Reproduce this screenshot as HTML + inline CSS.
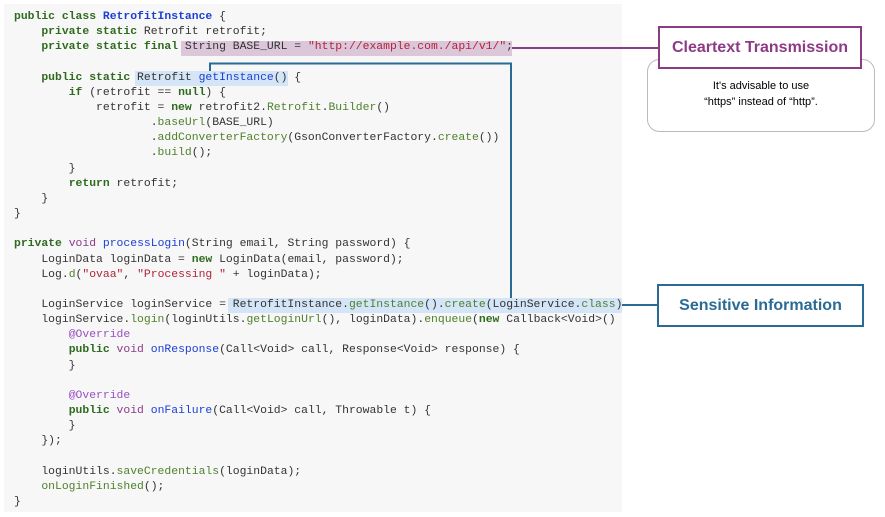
<!DOCTYPE html>
<html><head><meta charset="utf-8"><style>
body{margin:0;width:885px;height:517px;background:#fff;position:relative;overflow:hidden;font-family:"Liberation Sans",sans-serif}
#code{position:absolute;left:4px;top:4px;width:618px;height:508px;background:#f7f7f7}
pre{position:absolute;left:14px;top:10px;margin:0;font-family:"Liberation Mono",monospace;font-size:11.4px;line-height:15.15px;color:#333;white-space:pre}
.k{color:#2e6b1e;font-weight:bold}.c{color:#1b3fd4;font-weight:bold}.s{color:#b0243a}.m{color:#50802c}.a{color:#9a4ec4}.v{color:#8b3a8b}.f{color:#1b3fd4}
.hl{position:absolute}
.box{position:absolute;box-sizing:border-box;display:flex;align-items:center;justify-content:center;font-weight:bold;font-size:16px;background:#fff}
</style></head><body>
<div id="code"></div>
<div class="hl" style="left:181px;top:41px;width:331px;height:15px;background:#dcc6d9"></div>
<div class="hl" style="left:135px;top:71px;width:153px;height:15px;background:#d3e5f6"></div>
<div class="hl" style="left:228px;top:298px;width:394px;height:15px;background:#d3e5f6"></div>
<pre><span class="k">public class</span> <span class="c">RetrofitInstance</span> {
    <span class="k">private static</span> Retrofit retrofit;
    <span class="k">private static final</span> String BASE_URL = <span class="s">"http://example.com./api/v1/"</span>;

    <span class="k">public static</span> Retrofit <span class="f">getInstance</span>() {
        <span class="k">if</span> (retrofit == <span class="k">null</span>) {
            retrofit = <span class="k">new</span> retrofit2.<span class="m">Retrofit</span>.<span class="m">Builder</span>()
                    .<span class="m">baseUrl</span>(BASE_URL)
                    .<span class="m">addConverterFactory</span>(GsonConverterFactory.<span class="m">create</span>())
                    .<span class="m">build</span>();
        }
        <span class="k">return</span> retrofit;
    }
}

<span class="k">private</span> <span class="v">void</span> <span class="f">processLogin</span>(String email, String password) {
    LoginData loginData = <span class="k">new</span> LoginData(email, password);
    Log.<span class="m">d</span>(<span class="s">"ovaa"</span>, <span class="s">"Processing "</span> + loginData);

    LoginService loginService = RetrofitInstance.<span class="m">getInstance</span>().<span class="m">create</span>(LoginService.<span class="m">class</span>)
    loginService.<span class="m">login</span>(loginUtils.<span class="m">getLoginUrl</span>(), loginData).<span class="m">enqueue</span>(<span class="k">new</span> Callback&lt;Void&gt;()
        <span class="a">@Override</span>
        <span class="k">public</span> <span class="v">void</span> <span class="f">onResponse</span>(Call&lt;Void&gt; call, Response&lt;Void&gt; response) {
        }

        <span class="a">@Override</span>
        <span class="k">public</span> <span class="v">void</span> <span class="f">onFailure</span>(Call&lt;Void&gt; call, Throwable t) {
        }
    });

    loginUtils.<span class="m">saveCredentials</span>(loginData);
    <span class="m">onLoginFinished</span>();
}</pre>
<svg width="885" height="517" style="position:absolute;left:0;top:0">
<line x1="512" y1="48" x2="658" y2="48" stroke="#8e3b86" stroke-width="2"/>
<polyline points="210,71 210,63.5 511,63.5 511,298" fill="none" stroke="#2a6a94" stroke-width="2"/>
<line x1="622" y1="305" x2="657" y2="305" stroke="#2a6a94" stroke-width="2"/>
<rect x="647.5" y="59.5" width="227" height="72" rx="12" fill="#fff" stroke="#bbb"/>
</svg>
<div class="box" style="left:658px;top:26px;width:204px;height:43px;border:2px solid #8e3b86;color:#8e3b86">Cleartext Transmission</div>
<div style="position:absolute;left:647px;top:78px;width:228px;text-align:center;font-size:11px;line-height:16px;color:#000">It's advisable to use<br>“https” instead of “http”.</div>
<div class="box" style="left:657px;top:284px;width:207px;height:43px;border:2px solid #2a6a94;color:#2a6a94">Sensitive Information</div>
</body></html>
